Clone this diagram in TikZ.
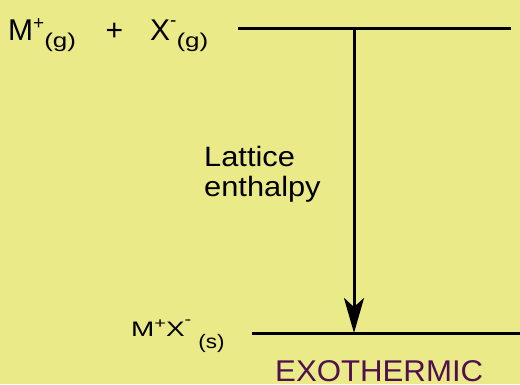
\documentclass[tikz,border=0pt]{standalone}
\usepackage{fontspec}
\setmainfont{Liberation Sans}
\usetikzlibrary{arrows.meta}
\definecolor{bgyellow}{RGB}{234,234,136}
\definecolor{exopurple}{RGB}{80,16,80}
% raised / lowered charge and state marks
\newcommand\chg[2]{\raisebox{#1}{\fontsize{19}{19}\selectfont #2}}
\newcommand\phase[2]{\raisebox{#1}{\scalebox{1.3}[1]{\fontsize{20}{20}\selectfont #2}}}
\newcommand\wide[2]{\scalebox{#1}[1]{#2}}

\begin{document}
\begin{tikzpicture}[x=1pt, y=1pt,
  big/.style={inner sep=0pt, anchor=base west, font=\fontsize{30}{30}\selectfont},
  small/.style={inner sep=0pt, anchor=base west, font=\fontsize{21}{25}\selectfont},
  level/.style={line width=3pt},
  >={Stealth[length=35pt, width=20pt, inset=9pt]}]
  \fill[bgyellow] (0,0) rectangle (520,384);
  \useasboundingbox (0,0) rectangle (520,384);
  % energy levels
  \coordinate (topl) at (238,355);
  \coordinate (topr) at (511,355);
  \coordinate (botl) at (252,51);
  \coordinate (botr) at (520,51);
  \coordinate (arrtop) at (354,355);
  \coordinate (arrbot) at (354,51);
  \draw[level] (topl) -- (topr);
  \draw[level] (botl) -- (botr);
  \draw[->, line width=3pt] (arrtop) -- (arrbot);
  % labels
  \node[big] (mg) at (8,344) {M\chg{10.5pt}{+}\phase{-7.5pt}{(g)}};
  \node[big] (plus) at (105.5,344) {+};
  \node[big] (xg) at (150,344) {X\chg{13.5pt}{-}\phase{-7.5pt}{(g)}};
  \node[big, align=left, font=\fontsize{28}{30}\selectfont] (lattice) at (204,187.3)
    {\wide{1.1}{Lattice}\\\wide{1.1}{enthalpy}};
  \node[small] (mx) at (131,47.3) {\wide{1.33}{M\raisebox{8pt}{\fontsize{15}{15}\selectfont +}X\raisebox{12pt}{\fontsize{15}{15}\selectfont -}}\hspace{7pt}\raisebox{-12pt}{\wide{1.15}{\fontsize{19.5}{19.5}\selectfont (s)}}};
  \node[big, text=exopurple] (exo) at (275,3) {\wide{1.04}{EXOTHERMIC}};
\end{tikzpicture}
\end{document}
